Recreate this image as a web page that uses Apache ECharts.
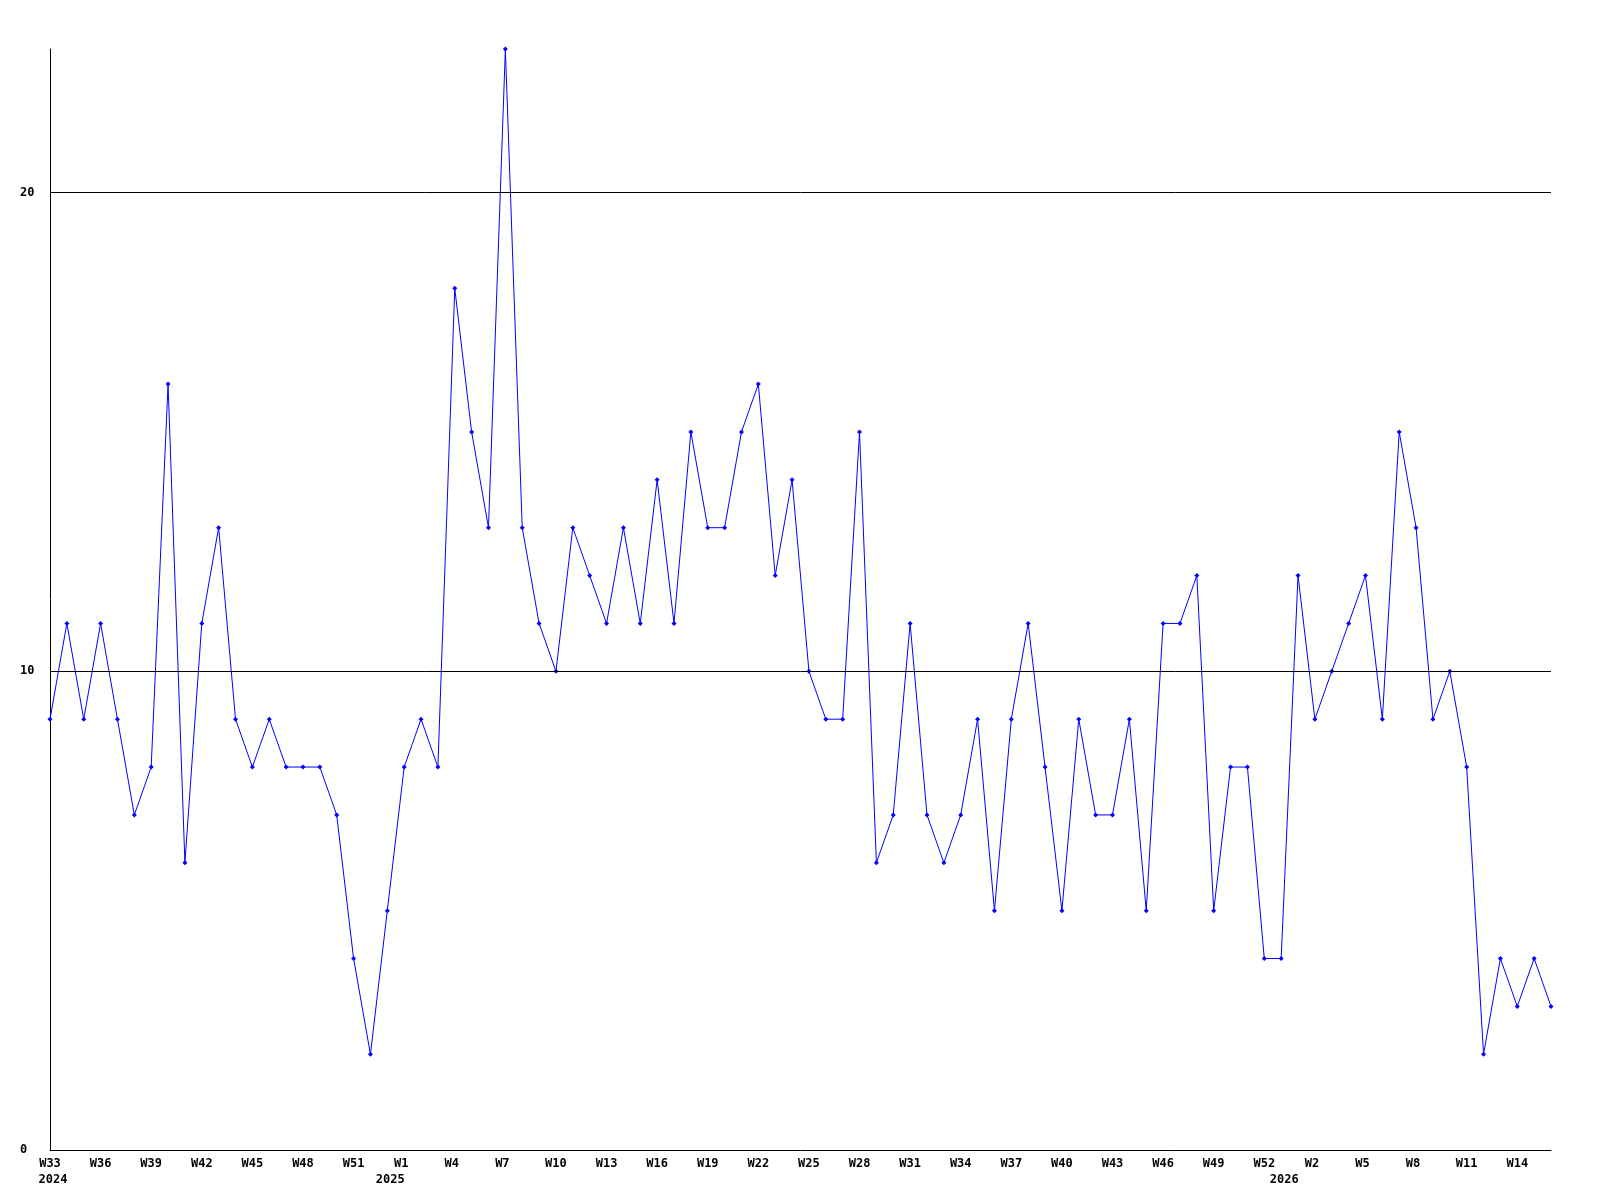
<!DOCTYPE html>
<html>
<head>
<meta charset="utf-8">
<script src="https://cdn.jsdelivr.net/npm/echarts@6/dist/echarts.min.js"></script>
<style>
html,body{margin:0;padding:0;background:#fff;}
#chart{width:1600px;height:1200px;}
</style>
</head>
<body>
<div id="chart"></div>
<script>
const weekLabels = [
  'W33','W34','W35','W36','W37','W38','W39','W40','W41','W42','W43','W44','W45','W46','W47','W48','W49','W50','W51','W52','W53',
  'W1','W2','W3','W4','W5','W6','W7','W8','W9','W10','W11','W12','W13','W14','W15','W16','W17','W18','W19','W20','W21','W22','W23','W24','W25','W26',
  'W27','W28','W29','W30','W31','W32','W33','W34','W35','W36','W37','W38','W39','W40','W41','W42','W43','W44','W45','W46','W47','W48','W49','W50','W51','W52','W53',
  'W1','W2','W3','W4','W5','W6','W7','W8','W9','W10','W11','W12','W13','W14','W15','W16'
];
const values = [
  9,11,9,11,9,7,8,16,6,11,13,9,8,9,8,8,8,7,4,2,5,
  8,9,8,18,15,13,23,13,11,10,13,12,11,13,11,14,11,15,13,13,15,16,12,14,10,9,
  9,15,6,7,11,7,6,7,9,5,9,11,8,5,9,7,7,9,5,11,11,12,5,8,8,4,4,
  12,9,10,11,12,9,15,13,9,10,8,2,4,3,4,3
];
const yearLabelIndex = [0, 20, 73];
const yearLabels = ['2024', '2025', '2026'];
const gridValues = [10, 20];

const font = {fontFamily: 'DejaVu Sans Mono', fontWeight: 'bold', fontSize: 12, color: '#000'};
const richStyles = {
  s: Object.assign({padding: [0, 6, 0, 0]}, font),
  y: Object.assign({padding: [0, 0, 0, 6]}, font)
};

const chart = echarts.init(document.getElementById('chart'), null, {renderer: 'canvas'});
chart.setOption({
  animation: false,
  backgroundColor: '#fff',
  grid: {left: 50, right: 49, top: 49, bottom: 50, containLabel: false},
  xAxis: [
    {
      type: 'category',
      data: weekLabels,
      boundaryGap: false,
      axisLine: {show: true, lineStyle: {color: '#000', width: 1}},
      axisTick: {show: false},
      splitLine: {show: false},
      axisLabel: Object.assign({
        interval: 2,
        margin: 8,
        rich: richStyles,
        formatter: function (value) {
          return value.length < 3 ? '{s|' + value + '}' : value;
        }
      }, font)
    },
    {
      type: 'category',
      data: weekLabels,
      boundaryGap: false,
      position: 'bottom',
      offset: 16,
      axisLine: {show: false},
      axisTick: {show: false},
      splitLine: {show: false},
      axisLabel: Object.assign({
        margin: 8,
        rich: richStyles,
        interval: function (index) { return yearLabelIndex.indexOf(index) >= 0; },
        formatter: function (value, index) {
          const k = yearLabelIndex.indexOf(index);
          return k >= 0 ? '{y|' + yearLabels[k] + '}' : '';
        }
      }, font)
    }
  ],
  yAxis: {
    type: 'value',
    min: 0,
    max: 23,
    interval: 10,
    axisLine: {show: true, lineStyle: {color: '#000', width: 1}},
    axisTick: {show: false},
    splitLine: {show: false},
    axisLabel: Object.assign({margin: 30, align: 'left', showMaxLabel: false}, font)
  },
  series: [{
    type: 'line',
    xAxisIndex: 0,
    data: values,
    symbol: 'diamond',
    symbolSize: 5,
    showAllSymbol: true,
    itemStyle: {color: '#0000ff'},
    lineStyle: {color: '#0000ff', width: 1},
    markLine: {
      silent: true,
      symbol: 'none',
      label: {show: false},
      lineStyle: {color: '#000', width: 1, type: 'solid'},
      data: gridValues.map(v => ({yAxis: v}))
    },
    z: 3
  }]
});
</script>
</body>
</html>
